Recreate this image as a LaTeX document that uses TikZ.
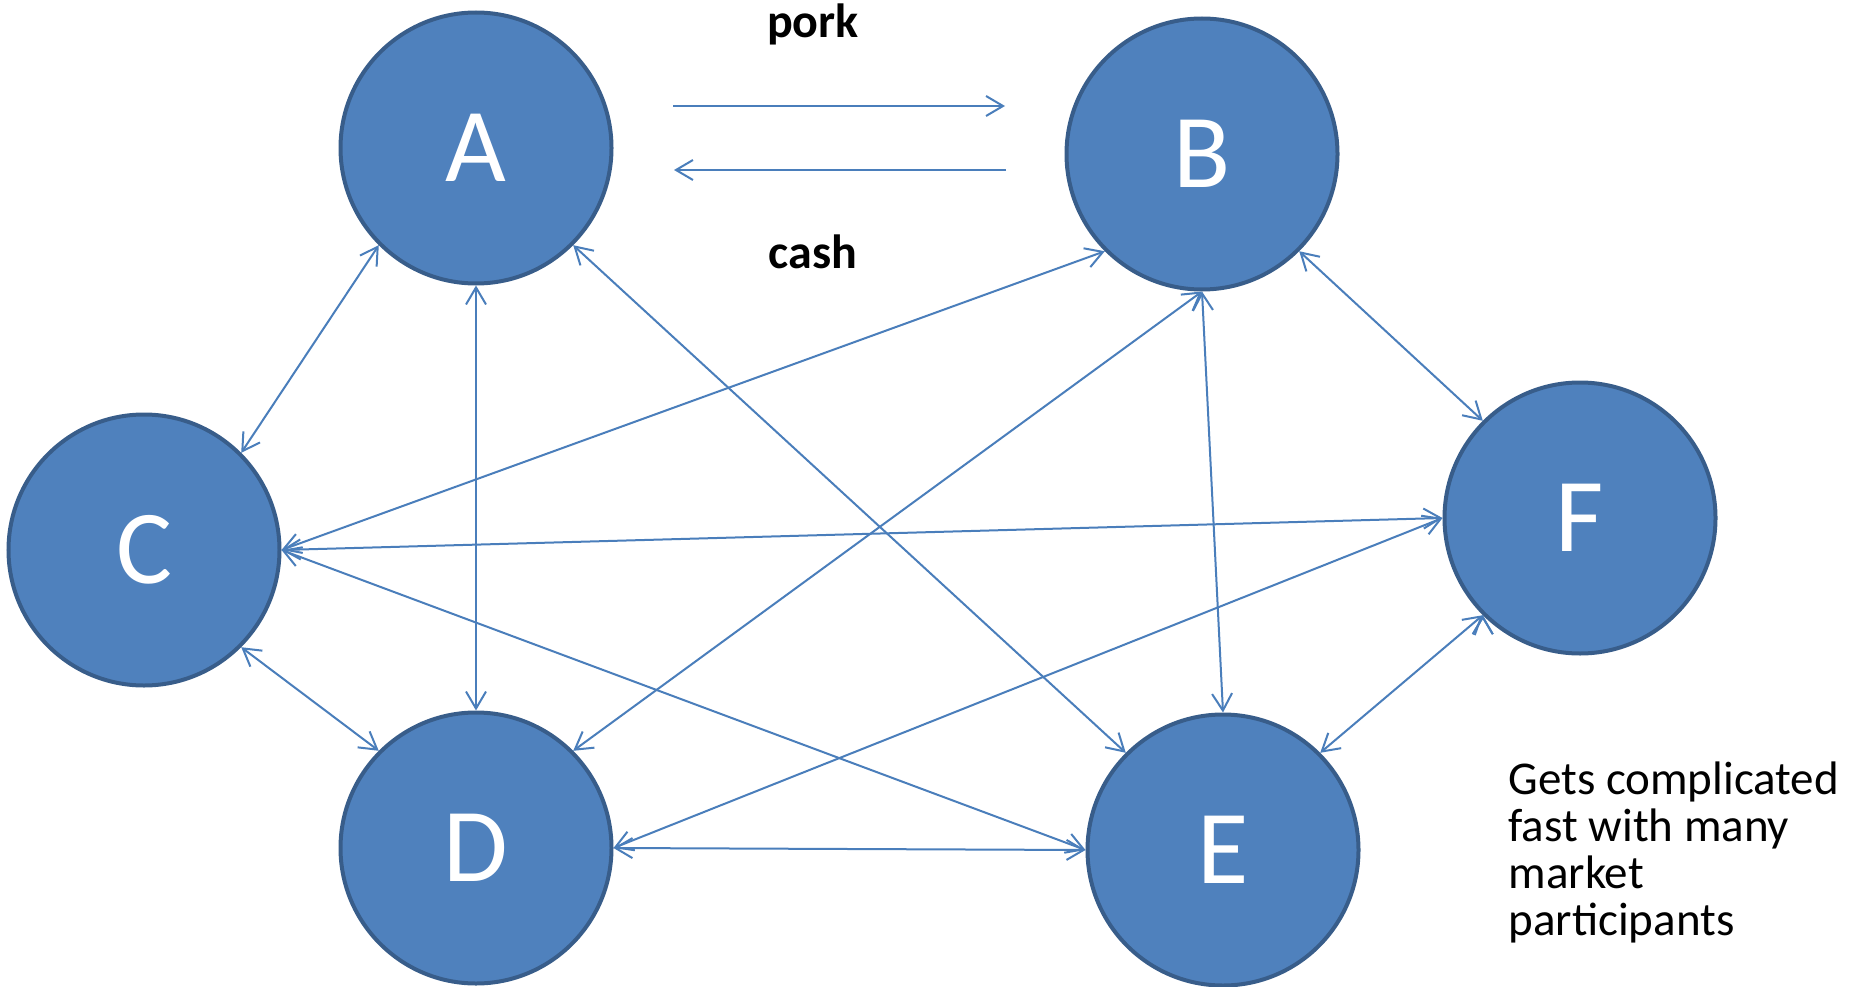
\documentclass[tikz,border=0pt]{standalone}
\usepackage{fontspec}
\setmainfont{Carlito}
\usetikzlibrary{arrows.meta}
\definecolor{nodeblue}{HTML}{4F81BD}
\definecolor{rimblue}{HTML}{385D8A}
\definecolor{linkblue}{HTML}{4A7EBB}

\begin{document}
\begin{tikzpicture}[x=1pt, y=-1pt, >={Straight Barb[length=17pt,width=20pt]},
    trader/.style={draw=rimblue, fill=nodeblue, line width=4pt, shape=circle, minimum size=271pt, inner sep=0pt, text=white, font=\fontsize{105}{110}\selectfont},
    flowtext/.style={font=\fontsize{48}{54}\selectfont\bfseries, anchor=base},
    link/.style={draw=linkblue, line width=2pt}]

    \useasboundingbox (0,0) rectangle (1857,987);

    % Define the traders (nodes)
    \node[trader] (A) at (476,148) {A};
    \node[trader] (B) at (1202,154) {B};
    \node[trader] (C) at (144,550) {C};
    \node[trader] (D) at (476,848) {D};
    \node[trader] (E) at (1223,850) {E};
    \node[trader] (F) at (1580,518) {F};

    % pork for cash between A and B
    \coordinate (porkstart) at (673,106);
    \coordinate (porkend) at (1005,106);
    \coordinate (cashstart) at (1006,170);
    \coordinate (cashend) at (674,170);
    \node[flowtext] (pork) at (813,38) {pork};
    \node[flowtext] (cash) at (813,268) {cash};
    \draw[link, ->] (porkstart) -- (porkend);
    \draw[link, ->] (cashstart) -- (cashend);

    % Define the trades (edges)
    \path[link, <->]
    (A.225) edge (C.45)
    (A.270) edge (D.90)
    (A.315) edge (E.135)
    (B.225) edge (C.0)
    (B.270) edge (D.45)
    (B.270) edge (E.90)
    (B.315) edge (F.135)
    (C.0) edge (F.180)
    (C.0) edge (E.180)
    (C.315) edge (D.135)
    (D.0) edge (F.180)
    (D.0) edge (E.180)
    (F.225) edge (E.45);

    \node[anchor=base west, align=left, font=\fontsize{47}{46.7}\selectfont] (note) at (1505,935) {Gets complicated\\fast with many\\market\\participants};
\end{tikzpicture}
\end{document}
